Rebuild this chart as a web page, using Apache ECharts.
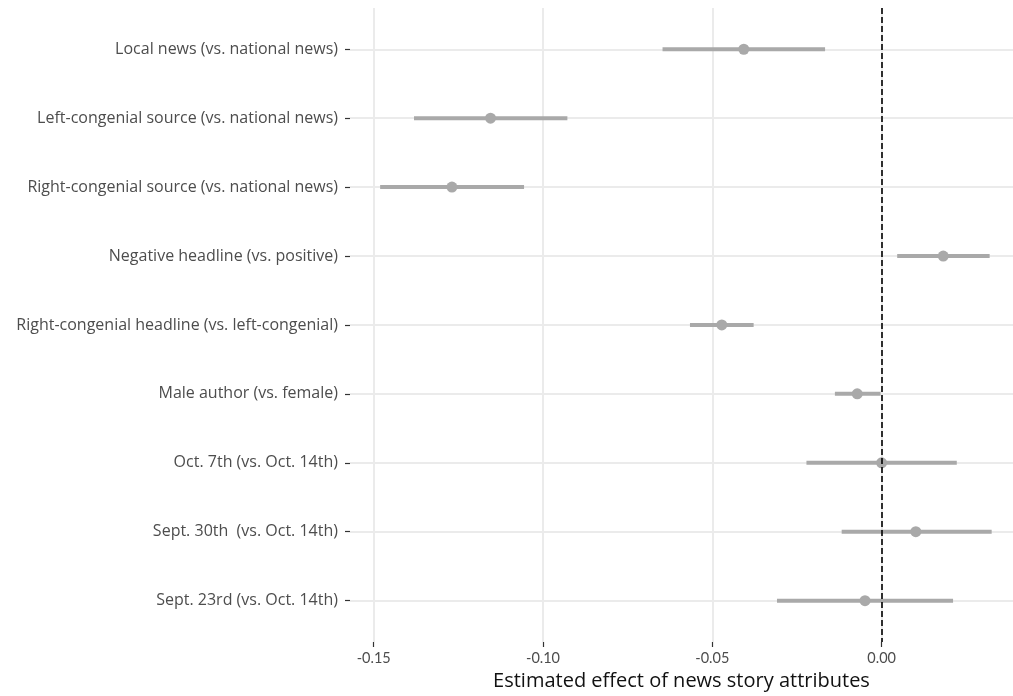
<!DOCTYPE html>
<html>
<head>
<meta charset="utf-8">
<script src="https://cdn.jsdelivr.net/npm/echarts@6/dist/echarts.min.js"></script>
<style>html,body{margin:0;padding:0;background:#fff}#c{width:1013px;height:696px}</style>
</head>
<body>
<div id="c"></div>
<script>
const categories = [
  "Local news (vs. national news)",
  "Left-congenial source (vs. national news)",
  "Right-congenial source (vs. national news)",
  "Negative headline (vs. positive)",
  "Right-congenial headline (vs. left-congenial)",
  "Male author (vs. female)",
  "Oct. 7th (vs. Oct. 14th)",
  "Sept. 30th  (vs. Oct. 14th)",
  "Sept. 23rd (vs. Oct. 14th)"
];
const estimates = [-0.0407, -0.1155, -0.1269, 0.0182, -0.0472, -0.0072, 0.0000, 0.0101, -0.0049];
const lower     = [-0.0647, -0.1381, -0.1481, 0.0046, -0.0566, -0.0138, -0.0222, -0.0118, -0.0309];
const upper     = [-0.0167, -0.0928, -0.1056, 0.0319, -0.0378, -0.0003, 0.0222, 0.0325, 0.0211];
const xTicks = [-0.15, -0.10, -0.05, 0.00];
const xTickLabels = ["-0.15", "-0.10", "-0.05", "0.00"];
const xTitle = "Estimated effect of news story attributes";

const rows = categories.map((_, i) => i);
const FONT = "'Open Sans', Lato, sans-serif";
const chart = echarts.init(document.getElementById('c'));
chart.setOption({
  animation: false,
  backgroundColor: '#fff',
  grid: { left: 350, right: 0, top: 7.9, bottom: 53.3, containLabel: false },
  xAxis: {
    type: 'value', min: -0.157, max: 0.0388,
    name: xTitle, nameLocation: 'middle', nameGap: 29,
    nameTextStyle: { fontFamily: FONT, fontSize: 20, color: '#111' },
    axisLine: { show: false, onZero: false },
    splitLine: { show: false },
    axisTick: { show: true, customValues: xTicks, length: 5, lineStyle: { color: '#333', width: 1.2 } },
    axisLabel: { customValues: xTicks, margin: 9, fontFamily: "Lato, sans-serif", fontSize: 14.5, color: '#4d4d4d',
      formatter: v => { const k = xTicks.findIndex(t => Math.abs(t - v) < 1e-9); return k >= 0 ? xTickLabels[k] : ''; } }
  },
  yAxis: {
    type: 'value', min: -0.6, max: categories.length - 1 + 0.6, inverse: true,
    axisLine: { show: false, onZero: false },
    splitLine: { show: false },
    axisTick: { show: true, customValues: rows, length: 5, lineStyle: { color: '#333', width: 1.2 } },
    axisLabel: { customValues: rows, margin: 12, fontFamily: FONT, fontSize: 16, color: '#4d4d4d',
      formatter: v => categories[Math.round(v)] || '' }
  },
  series: [
    {
      type: 'line', data: [], silent: true, z: 0,
      markLine: {
        silent: true, symbol: 'none', label: { show: false }, z: 0,
        lineStyle: { color: '#ebebeb', width: 2, type: 'solid' },
        emphasis: { disabled: true },
        data: xTicks.map(t => ({ xAxis: t })).concat(rows.map(r => ({ yAxis: r })))
      }
    },
    {
      type: 'custom', z: 2,
      data: rows.map(i => [lower[i], upper[i], i]),
      encode: { x: [0, 1], y: 2 },
      renderItem: (params, api) => {
        const a = api.coord([api.value(0), api.value(2)]);
        const b = api.coord([api.value(1), api.value(2)]);
        return { type: 'line', shape: { x1: a[0], y1: a[1], x2: b[0], y2: b[1] },
          style: { stroke: '#a9a9a9', lineWidth: 4 } };
      }
    },
    {
      type: 'scatter', z: 3, symbol: 'circle', symbolSize: 11,
      itemStyle: { color: '#a9a9a9', opacity: 1 },
      data: rows.map(i => [estimates[i], i])
    },
    {
      type: 'line', data: [], silent: true, z: 4,
      markLine: {
        silent: true, symbol: 'none', label: { show: false }, z: 10,
        lineStyle: { color: '#000', width: 1.6, type: [6, 3] },
        emphasis: { disabled: true },
        data: [{ xAxis: 0 }]
      }
    }
  ]
});
</script>
</body>
</html>
